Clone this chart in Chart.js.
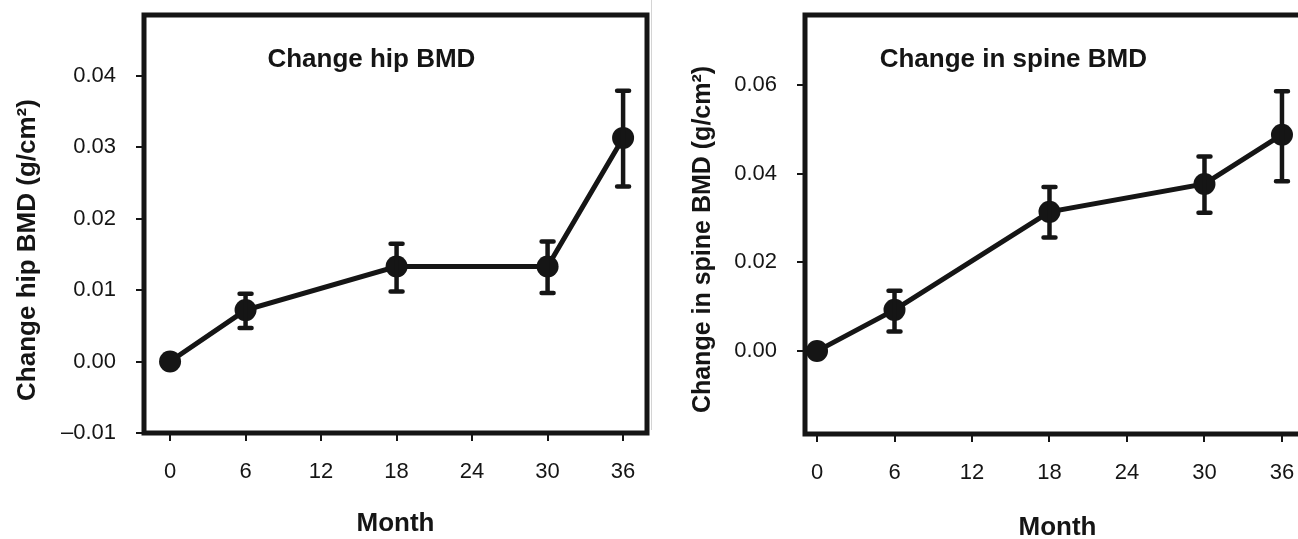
<!DOCTYPE html>
<html>
<head>
<meta charset="utf-8">
<script src="https://cdn.jsdelivr.net/npm/chart.js@4.4.1/dist/chart.umd.min.js"></script>
<style>
  html, body { margin: 0; padding: 0; background: #fff; overflow: hidden; width: 1298px; height: 539px; }
  #hipChart { position: absolute; left: 0; top: 0; }
  #spineChart { position: absolute; left: 650px; top: 0; }
  #scanEdge { position: absolute; left: 651px; top: 0; width: 1px; height: 430px; background: #d4d4d4; }
</style>
</head>
<body>
<canvas id="hipChart" width="650" height="539"></canvas>
<canvas id="spineChart" width="662" height="539"></canvas>
<div id="scanEdge"></div>
<script>
// months where BMD was measured
const months = [0, 6, 18, 30, 36];
const monthTicks = [0, 6, 12, 18, 24, 30, 36];

// hip: mean change and error bar ends (g/cm2)
const hipMean = [0, 0.0072, 0.0133, 0.0133, 0.0313];
const hipLow = [0, 0.0047, 0.0098, 0.0096, 0.0245];
const hipHigh = [0, 0.0095, 0.0165, 0.0168, 0.0379];
const hipTicks = [-0.01, 0, 0.01, 0.02, 0.03, 0.04];

// spine
const spineMean = [0, 0.0093, 0.0314, 0.0377, 0.0488];
const spineLow = [0, 0.0044, 0.0256, 0.0312, 0.0383];
const spineHigh = [0, 0.0136, 0.0370, 0.0439, 0.0586];
const spineTicks = [0, 0.02, 0.04, 0.06];

const ink = '#151515';
const tickFont = { family: '"Liberation Sans", Arial, sans-serif', size: 22 };
const boldFont = (size) => ({ family: '"Liberation Sans", Arial, sans-serif', size: size, weight: 'bold' });

// heavy frame round the plot area
const framePlugin = {
  id: 'frame',
  beforeDatasetsDraw(chart) {
    const { ctx, chartArea: a } = chart;
    ctx.save();
    ctx.strokeStyle = ink;
    ctx.lineWidth = 5;
    ctx.strokeRect(a.left, a.top, a.right - a.left, a.bottom - a.top);
    ctx.restore();
  }
};

// vertical error bars with caps
const errorBarPlugin = {
  id: 'errorBars',
  afterDatasetsDraw(chart, args, opts) {
    const { ctx, scales: { x, y } } = chart;
    ctx.save();
    ctx.strokeStyle = ink;
    ctx.lineWidth = 4.5;
    months.forEach((m, i) => {
      const lo = opts.low[i], hi = opts.high[i];
      if (lo === hi) return;
      const px = x.getPixelForValue(m);
      const pLo = y.getPixelForValue(lo);
      const pHi = y.getPixelForValue(hi);
      ctx.lineCap = 'butt';
      ctx.beginPath();
      ctx.moveTo(px, pLo);
      ctx.lineTo(px, pHi);
      ctx.stroke();
      ctx.lineCap = 'round';
      ctx.beginPath();
      ctx.moveTo(px - 6, pLo); ctx.lineTo(px + 6, pLo);
      ctx.moveTo(px - 6, pHi); ctx.lineTo(px + 6, pHi);
      ctx.stroke();
    });
    ctx.restore();
  }
};

// panel heading inside the frame, and the rotated y title
const textPlugin = {
  id: 'panelText',
  afterDraw(chart, args, opts) {
    const { ctx, chartArea: a, scales: { x, y } } = chart;
    ctx.save();
    ctx.fillStyle = ink;
    ctx.textAlign = 'center';
    ctx.textBaseline = 'middle';
    ctx.font = 'bold 26px "Liberation Sans", Arial, sans-serif';
    ctx.fillText(opts.title, x.getPixelForValue(opts.titleX), y.getPixelForValue(opts.titleY));
    ctx.translate(opts.yTitleLeft, (a.top + a.bottom) / 2 + opts.yTitleShift);
    ctx.rotate(-Math.PI / 2);
    ctx.font = 'bold ' + opts.yTitleSize + 'px "Liberation Sans", Arial, sans-serif';
    ctx.fillText(opts.yTitle, 0, 0);
    ctx.restore();
  }
};

function makeChart(id, cfg) {
  return new Chart(document.getElementById(id), {
    type: 'line',
    data: {
      datasets: [{
        data: months.map((m, i) => ({ x: m, y: cfg.mean[i] })),
        borderColor: ink,
        borderWidth: 5,
        backgroundColor: ink,
        pointBackgroundColor: ink,
        pointBorderWidth: 0,
        pointRadius: 11,
        tension: 0,
        clip: false
      }]
    },
    options: {
      responsive: false,
      animation: false,
      layout: { autoPadding: false, padding: { top: 15, right: cfg.padRight, left: 0, bottom: 0 } },
      plugins: {
        legend: { display: false },
        tooltip: { enabled: false },
        errorBars: { low: cfg.low, high: cfg.high },
        panelText: cfg.text
      },
      scales: {
        x: {
          type: 'linear',
          min: cfg.xMin,
          max: cfg.xMax,
          afterBuildTicks: (s) => { s.ticks = monthTicks.map(v => ({ value: v })); },
          afterFit: (s) => { s.height = cfg.xHeight; s.paddingLeft = 0; s.paddingRight = 0; },
          border: { display: false },
          grid: { drawOnChartArea: false, drawTicks: true, tickLength: 8, lineWidth: 2, color: ink },
          ticks: { color: ink, font: tickFont, padding: 18, maxRotation: 0, callback: (v) => String(v) },
          title: { display: true, text: 'Month', color: ink, font: boldFont(26), padding: { top: 0, bottom: cfg.monthPad } }
        },
        y: {
          type: 'linear',
          min: cfg.yMin,
          max: cfg.yMax,
          afterBuildTicks: (s) => { s.ticks = cfg.yTicks.map(v => ({ value: v })); },
          afterFit: (s) => { s.width = cfg.yWidth; s.paddingTop = 0; s.paddingBottom = 0; },
          border: { display: false },
          grid: { drawOnChartArea: false, drawTicks: true, tickLength: 8, lineWidth: 2, color: ink },
          ticks: {
            color: ink, font: tickFont, padding: 20,
            callback: (v) => v < 0 ? '\u2013' + Math.abs(v).toFixed(2) : v.toFixed(2)
          },
          title: { display: false }
        }
      }
    },
    plugins: [framePlugin, errorBarPlugin, textPlugin]
  });
}

makeChart('hipChart', {
  mean: hipMean, low: hipLow, high: hipHigh, yTicks: hipTicks,
  xMin: -2.07, xMax: 37.9, yMin: -0.01, yMax: 0.0485,
  yWidth: 144, xHeight: 106, padRight: 3, monthPad: 0,
  text: {
    title: 'Change hip BMD', titleX: 16, titleY: 0.0422,
    yTitle: 'Change hip BMD (g/cm\u00b2)', yTitleSize: 26, yTitleLeft: 28, yTitleShift: 26
  }
});

makeChart('spineChart', {
  mean: spineMean, low: spineLow, high: spineHigh, yTicks: spineTicks,
  xMin: -0.93, xMax: 38.17, yMin: -0.0187, yMax: 0.0758,
  yWidth: 155, xHeight: 105, padRight: 2, monthPad: -4,
  text: {
    title: 'Change in spine BMD', titleX: 15.2, titleY: 0.0656,
    yTitle: 'Change in spine BMD (g/cm\u00b2)', yTitleSize: 25, yTitleLeft: 53, yTitleShift: 15
  }
});
</script>
</body>
</html>
